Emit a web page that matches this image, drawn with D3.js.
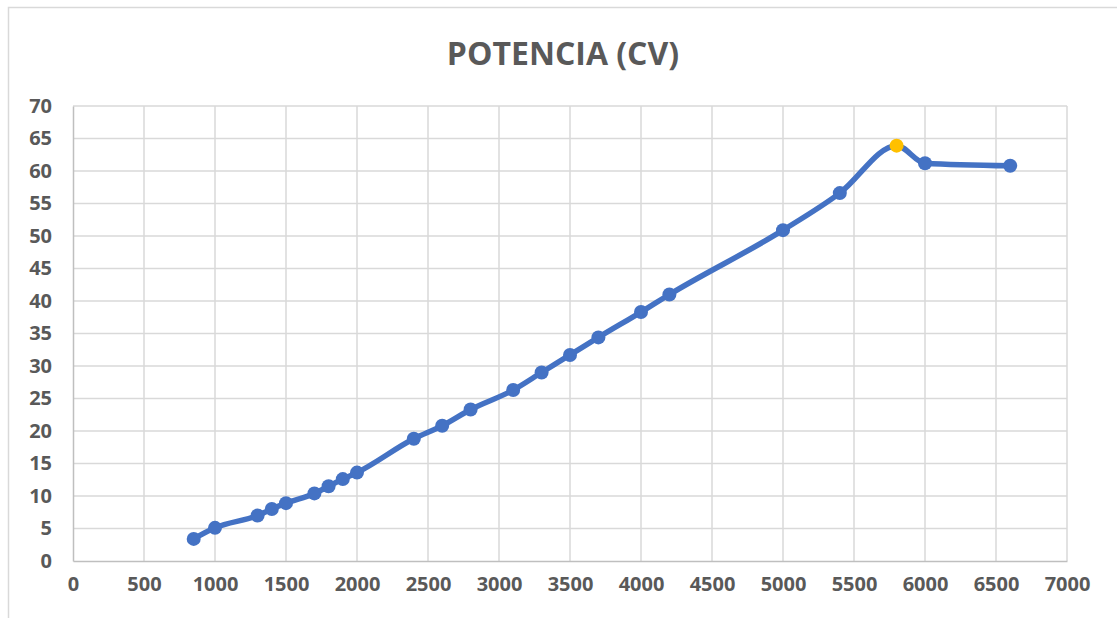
<!DOCTYPE html>
<html>
<head>
<meta charset="utf-8">
<script src="https://cdn.jsdelivr.net/npm/d3@7"></script>
<style>
  body { margin: 0; background: #fff; }
  svg { display: block; }
</style>
</head>
<body>
<div id="chart"></div>
<script>
const W = 1117, H = 618;
const margin = { top: 106, right: 50, bottom: 57, left: 73 };
const width = 1067 - margin.left;
const height = 561 - margin.top;

// rpm values and power (CV)
const rpm = [850, 1000, 1300, 1400, 1500, 1700, 1800, 1900, 2000, 2400, 2600, 2800,
  3100, 3300, 3500, 3700, 4000, 4200, 5000, 5400, 5800, 6000, 6600];
const potencia = [3.4, 5.1, 7.0, 8.0, 8.9, 10.4, 11.5, 12.6, 13.6, 18.8, 20.8, 23.3,
  26.3, 29.0, 31.7, 34.4, 38.3, 41.0, 50.9, 56.6, 63.9, 61.2, 60.8];
const highlight = 5800; // max power point

const xTicks = d3.range(0, 7001, 500);
const yTicks = d3.range(0, 71, 5);

const data = rpm.map((r, i) => ({ rpm: r, cv: potencia[i] }));

const svg = d3.select("#chart").append("svg")
  .attr("width", W)
  .attr("height", H);

// chart area border
svg.append("rect")
  .attr("x", 8.5).attr("y", 7.5)
  .attr("width", W + 20).attr("height", H + 20)
  .style("fill", "#fff")
  .style("stroke", "#d9d9d9")
  .style("stroke-width", 1.5);

svg.append("text")
  .attr("x", 563)
  .attr("y", 65)
  .attr("text-anchor", "middle")
  .style("font-family", "'Open Sans', sans-serif")
  .style("font-weight", "bold")
  .style("font-size", "32px")
  .style("fill", "#595959")
  .text("POTENCIA (CV)");

const g = svg.append("g")
  .attr("transform", "translate(" + margin.left + "," + margin.top + ")");

var xScale = d3.scaleLinear().domain([0, 7000]).range([0, width]);
var yScale = d3.scaleLinear().domain([0, 70]).range([height, 0]);

// gridlines
g.append("g")
  .selectAll("line.vgrid")
  .data(xTicks.slice(1))
  .enter().append("line")
  .attr("x1", d => xScale(d)).attr("x2", d => xScale(d))
  .attr("y1", 0).attr("y2", height)
  .style("stroke", "#d9d9d9")
  .style("stroke-width", 1.5);

g.append("g")
  .selectAll("line.hgrid")
  .data(yTicks.slice(1))
  .enter().append("line")
  .attr("x1", 0).attr("x2", width)
  .attr("y1", d => yScale(d)).attr("y2", d => yScale(d))
  .style("stroke", "#d9d9d9")
  .style("stroke-width", 1.5);

var xAxis = d3.axisBottom(xScale).tickValues(xTicks).tickFormat(d3.format("d"))
  .tickSize(0).tickPadding(23);
var yAxis = d3.axisLeft(yScale).tickValues(yTicks).tickFormat(d3.format("d"))
  .tickSize(0).tickPadding(21);

const xg = g.append("g")
  .attr("transform", "translate(0," + height + ")")
  .call(xAxis);
const yg = g.append("g").call(yAxis);

[xg, yg].forEach(a => {
  a.select(".domain").style("stroke", "#bfbfbf").style("stroke-width", 1.5);
  a.selectAll("text")
    .style("font-family", "'Open Sans', sans-serif")
    .style("font-weight", "bold")
    .style("font-size", "20px")
    .style("fill", "#595959");
});
xg.selectAll("text").attr("dy", "0.35em");

// series line (smoothed like the spreadsheet)
var line = d3.line()
  .x(d => xScale(d.rpm))
  .y(d => yScale(d.cv))
  .curve(d3.curveMonotoneX);

g.append("path")
  .datum(data)
  .attr("d", line)
  .style("fill", "none")
  .style("stroke", "#4472c4")
  .style("stroke-width", 5.5)
  .style("stroke-linejoin", "round")
  .style("stroke-linecap", "round");

g.selectAll("circle")
  .data(data)
  .enter().append("circle")
  .attr("cx", d => xScale(d.rpm))
  .attr("cy", d => yScale(d.cv))
  .attr("r", 7)
  .style("fill", d => d.rpm == highlight ? "#ffc000" : "#4472c4");
</script>
</body>
</html>
